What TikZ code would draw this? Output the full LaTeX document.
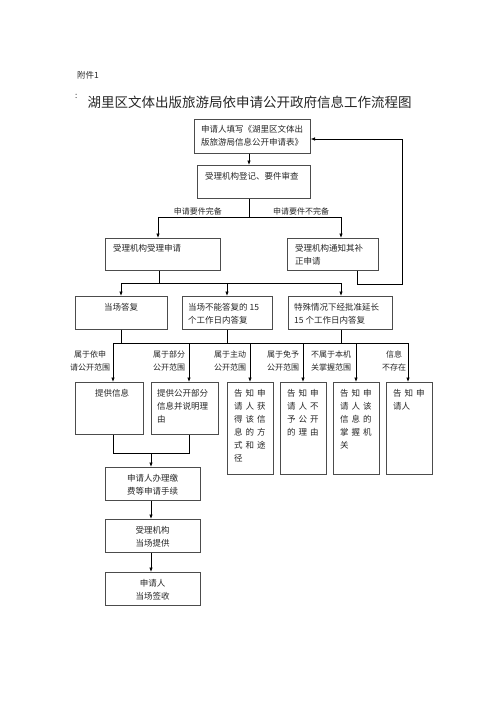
\documentclass[tikz,border=0pt]{standalone}
\usepackage{fontspec}
\setmainfont{Noto Sans CJK SC}
\usetikzlibrary{arrows.meta}
\newcommand\hh{\hspace{3pt}}
\tikzset{
  box/.style={draw=black!70, line width=0.6pt, inner sep=0pt, anchor=north west},
  txt/.style={font=\fontsize{8.5}{13}\selectfont, inner sep=0pt, text=black!85, align=left, anchor=north west},
  ctxt/.style={font=\fontsize{8.5}{13}\selectfont, inner sep=0pt, text=black!85, align=center, anchor=north},
  lbl/.style={font=\fontsize{8}{13}\selectfont, inner sep=0pt, text=black!85, align=center, anchor=north},
  ln/.style={line width=0.7pt, black},
  ar/.style={line width=0.7pt, black, -{Latex[length=4.5pt,width=3.5pt]}}
}
\begin{document}
\begin{tikzpicture}[x=1pt,y=-1pt]
\useasboundingbox (0,0) rectangle (500,707);
% header
\node[font=\fontsize{8.5}{10}\selectfont, inner sep=0pt, anchor=west, text=black!85] (att) at (77,75) {附件1};
\node[font=\fontsize{8}{10}\selectfont, inner sep=0pt, anchor=west, text=black!85] (colon) at (75,96) {:};
\node[font=\fontsize{13.5}{16}\selectfont, inner sep=0pt, text=black!85] (title) at (249.5,102) {湖里区文体出版旅游局依申请公开政府信息工作流程图};
% boxes
\node[box, minimum width=116pt, minimum height=34pt] (b1) at (194,119) {};
\node[txt] (t1) at (201,124.7) {申请人填写《湖里区文体出\\版旅游局信息公开申请表》};
\node[box, minimum width=113pt, minimum height=33pt] (b2) at (197,165) {};
\node[txt] (t2) at (205,171.7) {受理机构登记、要件审查};
\node[box, minimum width=115pt, minimum height=32pt] (b3) at (105,238) {};
\node[txt] (t3) at (113,243.7) {受理机构受理申请};
\node[box, minimum width=91pt, minimum height=32pt] (b4) at (287,238) {};
\node[txt] (t4) at (295,243.7) {受理机构通知其补\\正申请};
\node[box, minimum width=92pt, minimum height=33pt] (b5) at (75,296) {};
\node[ctxt] (t5) at (121,302.7) {当场答复};
\node[box, minimum width=90pt, minimum height=33pt] (b6) at (182,296) {};
\node[txt] (t6) at (188,302.7) {当场不能答复的 15\\个工作日内答复};
\node[box, minimum width=104pt, minimum height=33pt] (b7) at (288,296) {};
\node[txt] (t7) at (294,302.7) {特殊情况下经批准延长\\15 个工作日内答复};
\node[box, minimum width=68pt, minimum height=52pt] (b8) at (75,382) {};
\node[ctxt] (t8) at (112,388.7) {提供信息};
\node[box, minimum width=67pt, minimum height=52pt] (b9) at (151,382) {};
\node[txt] (t9) at (157,388.7) {提供公开部分\\信息并说明理\\由};
\node[box, minimum width=46pt, minimum height=92pt] (b10) at (227,382) {};
\node[txt] (t10) at (234,388.7) {告\hh 知\hh 申\\请\hh 人\hh 获\\得\hh 该\hh 信\\息\hh 的\hh 方\\式\hh 和\hh 途\\径};
\node[box, minimum width=46pt, minimum height=92pt] (b11) at (280,382) {};
\node[txt] (t11) at (287,388.7) {告\hh 知\hh 申\\请\hh 人\hh 不\\予\hh 公\hh 开\\的\hh 理\hh 由};
\node[box, minimum width=46pt, minimum height=92pt] (b12) at (333,382) {};
\node[txt] (t12) at (340,388.7) {告\hh 知\hh 申\\请\hh 人\hh 该\\信\hh 息\hh 的\\掌\hh 握\hh 机\\关};
\node[box, minimum width=46pt, minimum height=92pt] (b13) at (386,382) {};
\node[txt] (t13) at (393,388.7) {告\hh 知\hh 申\\请人};
\node[box, minimum width=95pt, minimum height=33pt] (b14) at (105,467) {};
\node[ctxt] (t14) at (152.5,473.7) {申请人办理缴\\费等申请手续};
\node[box, minimum width=95pt, minimum height=33pt] (b15) at (105,519) {};
\node[ctxt] (t15) at (152.5,525.7) {受理机构\\当场提供};
\node[box, minimum width=95pt, minimum height=33pt] (b16) at (105,572) {};
\node[ctxt] (t16) at (152.5,578.7) {申请人\\当场签收};
% branch labels
\node[lbl, anchor=east] (l1) at (222,211) {申请要件完备};
\node[lbl, anchor=west] (l2) at (273,211) {申请要件不完备};
\node[lbl] (l3) at (90,350.5) {属于依申\\请公开范围};
\node[lbl] (l4) at (169,350.5) {属于部分\\公开范围};
\node[lbl] (l5) at (230,350.5) {属于主动\\公开范围};
\node[lbl] (l6) at (283,350.5) {属于免予\\公开范围};
\node[lbl] (l7) at (331,350.5) {不属于本机\\关掌握范围};
\node[lbl] (l8) at (394,350.5) {信息\\不存在};
% junction coordinates
\coordinate (j1) at (249,217);
\coordinate (j2) at (159,283);
\coordinate (j3) at (227,343);
\coordinate (j4) at (151,453);
\coordinate (fb1) at (357,284);
\coordinate (fb2) at (402,284);
\coordinate (fb3) at (402,139);
% connectors
\draw[ar] (b1.south -| j1) -- (b2.north -| j1);
\draw[ln] (b2.south -| j1) -- (j1);
\draw[ln] (158,217) -- (341,217);
\draw[ar] (158,217) -- (b3.north -| 158,0);
\draw[ar] (341,217) -- (b4.north -| 341,0);
\draw[ln] (b4.south -| fb1) -- (fb1) -- (fb2) -- (fb3);
\draw[ar] (fb3) -- (b1.east |- fb3);
\draw[ln] (b3.south -| j2) -- (j2);
\draw[ln] (121,283) -- (341,283);
\draw[ar] (121,283) -- (b5.north -| 121,0);
\draw[ar] (227,283) -- (b6.north -| 227,0);
\draw[ar] (341,283) -- (b7.north -| 341,0);
\draw[ln] (b5.south -| 121,0) -- (121,343);
\draw[ln] (b6.south -| 227,0) -- (227,343);
\draw[ln] (b7.south -| 341,0) -- (341,343);
\draw[ln] (113,343) -- (408,343);
\draw[ar] (113,343) -- (b8.north -| 113,0);
\draw[ar] (189,343) -- (b9.north -| 189,0);
\draw[ar] (250,343) -- (b10.north -| 250,0);
\draw[ar] (303,343) -- (b11.north -| 303,0);
\draw[ar] (356,343) -- (b12.north -| 356,0);
\draw[ar] (408,343) -- (b13.north -| 408,0);
\draw[ln] (b8.south -| 113,0) -- (113,453) -- (189,453) -- (b9.south -| 189,0);
\draw[ar] (j4) -- (b14.north -| j4);
\draw[ar] (b14.south -| j4) -- (b15.north -| j4);
\draw[ar] (b15.south -| j4) -- (b16.north -| j4);
\end{tikzpicture}
\end{document}
